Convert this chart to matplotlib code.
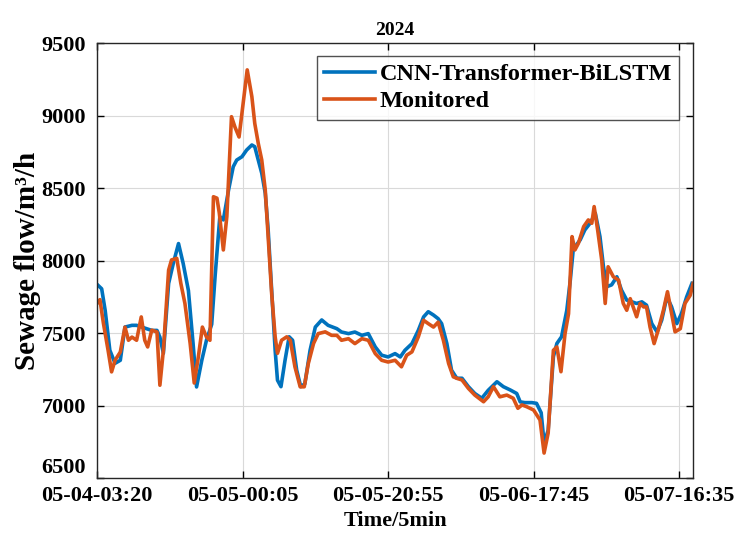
import matplotlib
matplotlib.use("Agg")
import matplotlib.pyplot as plt

# Índices de tiempo (paso de 5 min) y valores
pred_idx = [2, 8, 14, 22, 31, 40, 48, 60, 68, 77, 85, 94, 103, 108, 114, 123, 131, 140,
            148, 157, 165, 171, 180, 188, 197, 203, 211, 217, 226, 234, 240, 249, 257,
            266, 271, 277, 283, 289, 294, 300, 306, 310, 316, 323, 330, 336, 343, 350,
            357, 366, 375, 386, 397, 412, 420, 432, 443, 455, 466, 478, 489, 500, 512,
            521, 529, 541, 552, 561, 569, 578, 586, 592, 601, 609, 618, 627, 638, 649,
            661, 672, 687, 698, 710, 721, 727, 735, 747, 755, 763, 768, 775, 784, 790,
            798, 807, 813, 818, 822, 830, 838, 847, 856, 864, 870, 876, 884, 893, 901,
            910, 919, 927, 936, 944, 953, 962, 970, 979, 987, 996, 1004, 1013, 1022]
pred_val = [7828, 7805, 7656, 7381, 7291, 7312, 7541, 7553, 7553, 7541, 7530, 7518, 7518,
            7472, 7360, 7842, 7980, 8117, 7980, 7793, 7428, 7128, 7312, 7450, 7560, 7900,
            8303, 8280, 8487, 8647, 8693, 8716, 8762, 8797, 8785, 8693, 8602, 8464, 8211,
            7796, 7381, 7175, 7130, 7312, 7474, 7450, 7244, 7130, 7150, 7381, 7541, 7590,
            7553, 7530, 7507, 7496, 7507, 7484, 7496, 7404, 7347, 7335, 7358, 7335, 7381,
            7427, 7519, 7611, 7647, 7624, 7599, 7565, 7427, 7244, 7188, 7188, 7130, 7083,
            7050, 7105, 7164, 7130, 7107, 7083, 7025, 7020, 7020, 7015, 6950, 6741, 6830,
            7337, 7428, 7474, 7656, 7863, 8072, 8100, 8142, 8211, 8257, 8326, 8165, 7957,
            7820, 7832, 7888, 7796, 7727, 7715, 7704, 7715, 7692, 7565, 7508, 7588, 7750,
            7681, 7565, 7634, 7750, 7842]

mon_idx = [0, 5, 11, 19, 25, 31, 40, 48, 54, 60, 68, 76, 82, 87, 94, 103, 108, 114, 123,
           128, 137, 144, 151, 160, 167, 174, 181, 188, 194, 200, 206, 210, 217, 223, 231,
           237, 244, 251, 258, 266, 271, 277, 283, 289, 294, 300, 306, 310, 317, 326, 332,
           340, 349, 356, 363, 372, 380, 392, 403, 412, 420, 432, 443, 455, 466, 478, 489,
           500, 512, 523, 532, 541, 552, 561, 569, 578, 586, 595, 604, 612, 618, 627, 638,
           649, 664, 672, 681, 692, 704, 715, 723, 730, 738, 750, 761, 768, 775, 784, 790,
           797, 804, 810, 816, 821, 827, 836, 844, 850, 854, 860, 867, 873, 878, 887, 896,
           904, 910, 916, 921, 927, 933, 939, 944, 950, 957, 964, 973, 980, 987, 993, 1002,
           1010, 1019, 1024]
mon_val = [7704, 7730, 7567, 7381, 7232, 7312, 7369, 7541, 7450, 7472, 7450, 7611, 7450,
           7404, 7520, 7507, 7140, 7381, 7934, 8004, 8015, 7842, 7704, 7428, 7155, 7334,
           7541, 7473, 7450, 8440, 8430, 8330, 8073, 8303, 8992, 8920, 8852, 9083, 9315,
           9130, 8945, 8808, 8693, 8487, 8165, 7773, 7474, 7360, 7450, 7474, 7450, 7267,
           7129, 7129, 7290, 7428, 7496, 7508, 7484, 7484, 7450, 7461, 7427, 7461, 7450,
           7358, 7312, 7300, 7312, 7267, 7347, 7370, 7474, 7588, 7565, 7541, 7575, 7450,
           7290, 7198, 7188, 7176, 7118, 7072, 7026, 7060, 7130, 7060, 7072, 7050, 6981,
           7004, 6992, 6969, 6900, 6672, 6810, 7381, 7404, 7233, 7496, 7633, 8165, 8073,
           8119, 8234, 8280, 8257, 8372, 8211, 8004, 7704, 7957, 7888, 7865, 7704, 7657,
           7737, 7680, 7612, 7704, 7680, 7680, 7541, 7427, 7519, 7657, 7785, 7634, 7508,
           7530, 7704, 7760, 7842]

tick_pos = [0, 250, 500, 750, 1000]
tick_labels = ["05-04-03:20", "05-05-00:05", "05-05-20:55", "05-06-17:45", "05-07-16:35"]

# Estilo tipo MATLAB con fuente serif en negrita
plt.rcParams['font.family'] = ['Liberation Serif', 'DejaVu Serif']
plt.rcParams['font.weight'] = 'bold'

fig = plt.figure(figsize=(7.35, 5.38), dpi=100)
ax = fig.add_axes([0.132, 0.1115, 0.811, 0.8085])

ax.plot(pred_idx, pred_val, color='#0072BD', lw=2.6, label='CNN-Transformer-BiLSTM')
ax.plot(mon_idx, mon_val, color='#D95319', lw=2.6, label='Monitored')

ax.set_xlim(0, 1024)
ax.set_ylim(6500, 9500)
ax.set_xticks(tick_pos)
ax.set_xticklabels(tick_labels)
ax.set_yticks(range(6500, 9501, 500))

ax.grid(True, color='#d9d9d9', lw=0.8)
ax.set_axisbelow(True)
ax.tick_params(direction='in', top=True, right=True, labelsize=16, length=5, width=1)
ax.tick_params(axis='x', pad=6)
ax.tick_params(axis='y', pad=8)
for s in ax.spines.values():
    s.set_linewidth(1.0)
    s.set_color('#262626')

# La etiqueta 6500 queda algo más arriba, como en el original
fig.canvas.draw()
ax.get_yticklabels()[0].set_verticalalignment('bottom')

ax.set_title('2024', fontsize=14, fontweight='bold', pad=6)
ax.set_xlabel('Time/5min', fontsize=16, fontweight='bold', labelpad=3)
ax.set_ylabel('Sewage flow/m³/h', fontsize=21, fontweight='bold', labelpad=0)

leg = ax.legend(loc='upper right', bbox_to_anchor=(0.977, 0.97), fontsize=17.5,
                frameon=True, fancybox=False, edgecolor='#262626', handlelength=2.1,
                handletextpad=0.2, borderpad=0.3, labelspacing=0.2, borderaxespad=0)
leg.get_frame().set_linewidth(1.0)

fig.savefig('out.png', dpi=100)
